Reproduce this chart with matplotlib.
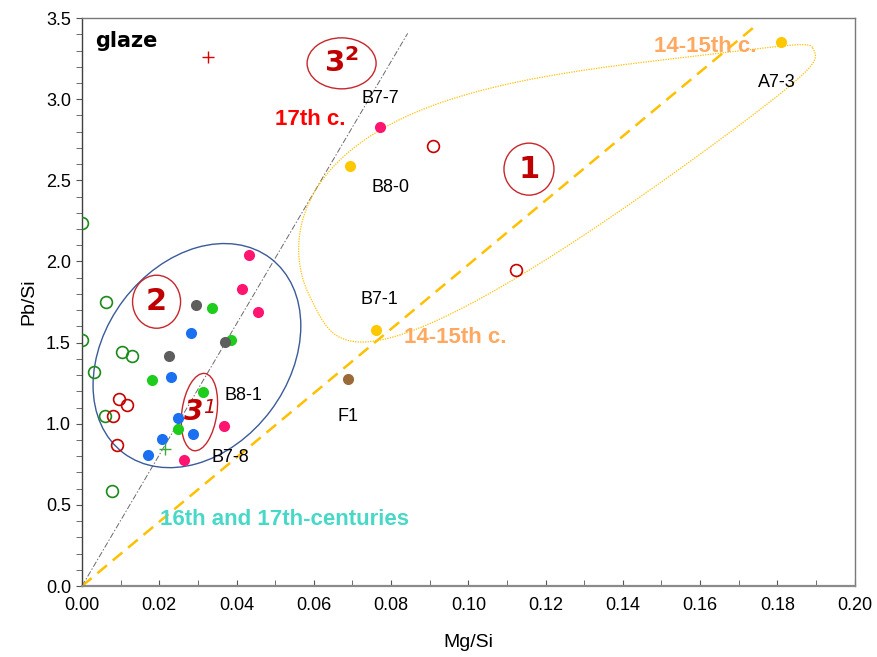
import numpy as np
import matplotlib
matplotlib.use("Agg")
import matplotlib.pyplot as plt
from matplotlib.patches import Ellipse
from matplotlib.transforms import ScaledTranslation
from matplotlib.ticker import MultipleLocator, FormatStrFormatter

plt.rcParams['font.family'] = ['Liberation Sans', 'DejaVu Sans']
plt.rcParams['mathtext.fontset'] = 'dejavusans'

# ---- data: Mg/Si (x) and Pb/Si (y) ratios of the glazes ----
pink_x = [0.0432, 0.0414, 0.0455, 0.0367, 0.0265, 0.0771]
pink_y = [2.04, 1.83, 1.686, 0.988, 0.776, 2.83]

green_x = [0.0337, 0.0386, 0.0180, 0.0314, 0.0248]
green_y = [1.711, 1.516, 1.271, 1.197, 0.965]

gray_x = [0.0294, 0.0371, 0.0226]
gray_y = [1.733, 1.505, 1.419]

blue_x = [0.0283, 0.0231, 0.0248, 0.0288, 0.0207, 0.0172]
blue_y = [1.557, 1.290, 1.037, 0.937, 0.908, 0.805]

yellow_x = [0.0693, 0.1810, 0.0761]
yellow_y = [2.59, 3.35, 1.577]

brown_x = [0.0688]
brown_y = [1.275]

open_green_x = [0.0, 0.0062, 0.0, 0.0103, 0.0129, 0.0031, 0.0060, 0.0077]
open_green_y = [2.24, 1.75, 1.516, 1.442, 1.419, 1.320, 1.049, 0.585]

open_red_x = [0.0908, 0.1123, 0.0096, 0.0116, 0.0081, 0.0090]
open_red_y = [2.71, 1.947, 1.152, 1.117, 1.049, 0.867]

cross_red_x = [0.0326]
cross_red_y = [3.26]
cross_green_x = [0.0215]
cross_green_y = [0.846]

# sample names and their label positions
sample_names = ["B7-7", "B8-0", "B7-1", "F1", "B8-1", "B7-8", "A7-3"]
sample_label_x = [0.0771, 0.0799, 0.0771, 0.0688, 0.0417, 0.0385, 0.1798]
sample_label_y = [3.007, 2.458, 1.768, 1.045, 1.177, 0.793, 3.105]

# reference trend lines through the origin: (end x, slope)
gray_trend = (0.0843, 40.4)
gold_trend = (0.175, 19.8)

x_ticks = [0.00, 0.02, 0.04, 0.06, 0.08, 0.10, 0.12, 0.14, 0.16, 0.18, 0.20]
y_ticks = [0.0, 0.5, 1.0, 1.5, 2.0, 2.5, 3.0, 3.5]

fig = plt.figure(figsize=(8.77, 6.57), dpi=100)
ax = fig.add_axes([0.0935, 0.108, 0.881, 0.8645])
ax.set_xlim(0, 0.20)
ax.set_ylim(0, 3.5)


def at_data(cx, cy):
    """Transform: inches offset from a data point."""
    return fig.dpi_scale_trans + ScaledTranslation(cx, cy, ax.transData)


# trend lines
gx = np.array([0.0, gray_trend[0]])
ax.plot(gx, gx * gray_trend[1], color='#6a6a6a', lw=0.7,
        linestyle=(0, (6, 2, 1.5, 2)), zorder=2)
ox = np.array([0.0, gold_trend[0]])
ax.plot(ox, ox * gold_trend[1], color='#FFC000', lw=1.8,
        linestyle=(0, (5, 3)), zorder=2)

# group 2 envelope
ax.add_patch(Ellipse((0, 0), 2.44, 1.84, angle=53, transform=at_data(0.02975, 1.42),
                     fill=False, ec='#3A5A9A', lw=1.0, zorder=2))

# group 1 envelope: lopsided egg-shaped dotted loop (inches, rotated)
t = np.linspace(0, 2 * np.pi, 600)
c, s = np.cos(t), np.sin(t)
half_len = 2.805
top_w, top_taper = 1.00, 0.72
bot_w, bot_taper = 0.66, 0.55
lx = half_len * c
ly = np.where(s >= 0,
              top_w * s * (1 - top_taper * c),
              -bot_w * np.sqrt(np.abs(s)) * (1 - bot_taper * c))
th = np.deg2rad(26.3)
rx = lx * np.cos(th) - ly * np.sin(th)
ry = lx * np.sin(th) + ly * np.cos(th)
ax.plot(rx, ry, color='#FFC000', lw=0.9, linestyle=(0, (1, 1)),
        transform=at_data(0.1240, 2.553), zorder=2)

# circled group numbers
red_dark = '#C00000'
circ_kw = dict(fill=False, ec='#C8262B', lw=1.0, zorder=3)
ax.add_patch(Ellipse((0, 0), 0.50, 0.52, transform=at_data(0.1157, 2.569), **circ_kw))
ax.add_patch(Ellipse((0, 0), 0.48, 0.53, transform=at_data(0.0193, 1.752), **circ_kw))
ax.add_patch(Ellipse((0, 0), 0.69, 0.51, transform=at_data(0.0672, 3.221), **circ_kw))
ax.add_patch(Ellipse((0, 0), 0.35, 0.78, angle=-8, transform=at_data(0.0304, 1.072), **circ_kw))

num_kw = dict(color=red_dark, fontweight='bold', family='DejaVu Sans',
              ha='center', va='center', zorder=4)
ax.text(0.1157, 2.569, "1", fontsize=22, **num_kw)
ax.text(0.0193, 1.752, "2", fontsize=22, **num_kw)
ax.text(0.0672, 3.221, r"$\mathbf{3}^{\mathbf{2}}$", fontsize=21,
        color=red_dark, ha='center', va='center', zorder=4)
ax.annotate("3", (0.0304, 1.072), xytext=(-4, 0), textcoords='offset points',
            fontsize=20, fontweight='bold', fontstyle='italic', family='DejaVu Sans',
            color=red_dark, ha='center', va='center', zorder=4)
ax.annotate("1", (0.0304, 1.072), xytext=(7, 3), textcoords='offset points',
            fontsize=14, fontstyle='italic', family='DejaVu Sans',
            color=red_dark, ha='center', va='center', zorder=4)

# points
ms = 8
ax.plot(green_x, green_y, 'o', color='#1ECC1E', ms=ms, mec='none', zorder=5)
ax.plot(gray_x, gray_y, 'o', color='#5E5E5E', ms=ms, mec='none', zorder=5)
ax.plot(blue_x, blue_y, 'o', color='#1A70F0', ms=ms, mec='none', zorder=5)
ax.plot(pink_x, pink_y, 'o', color='#FF1470', ms=ms, mec='none', zorder=5)
ax.plot(yellow_x, yellow_y, 'o', color='#FFC800', ms=ms, mec='none', zorder=5)
ax.plot(brown_x, brown_y, 'o', color='#9A6A38', ms=ms, mec='none', zorder=5)
ax.plot(open_green_x, open_green_y, 'o', mfc='none', mec='#1A8A1A', ms=8.5, mew=1.2, zorder=5)
ax.plot(open_red_x, open_red_y, 'o', mfc='none', mec='#C80000', ms=8.5, mew=1.2, zorder=5)
ax.plot(cross_red_x, cross_red_y, '+', color='#E00000', ms=9, mew=1.0, zorder=5)
ax.plot(cross_green_x, cross_green_y, '+', color='#3AAA3A', ms=9, mew=1.0, zorder=5)

for name, lx_, ly_ in zip(sample_names, sample_label_x, sample_label_y):
    ax.text(lx_, ly_, name, fontsize=13, color='black', ha='center', va='center', zorder=6)

# period annotations
ax.text(0.0034, 3.36, "glaze", fontsize=15, fontweight='bold', family='DejaVu Sans',
        ha='left', va='center')
ax.text(0.0592, 2.875, "17th c.", fontsize=16, fontweight='bold', color='#FF0000',
        ha='center', va='center')
ax.text(0.1614, 3.327, "14-15th c.", fontsize=16, fontweight='bold', color='#FFA860',
        ha='center', va='center', zorder=4)
ax.text(0.0965, 1.534, "14-15th c.", fontsize=16, fontweight='bold', color='#FFA860',
        ha='center', va='center', zorder=4)
ax.text(0.0523, 0.407, "16th and 17th-centuries", fontsize=16, fontweight='bold',
        color='#48D8C8', ha='center', va='center', zorder=4)

# axes styling
ax.set_xticks(x_ticks)
ax.set_yticks(y_ticks)
ax.xaxis.set_major_formatter(FormatStrFormatter('%.2f'))
ax.yaxis.set_major_formatter(FormatStrFormatter('%.1f'))
ax.xaxis.set_minor_locator(MultipleLocator(0.01))
ax.yaxis.set_minor_locator(MultipleLocator(0.1))
ax.tick_params(axis='x', which='both', direction='in', length=4, color='#555555',
               labelsize=13, pad=8)
ax.tick_params(axis='y', which='both', direction='out', length=4, color='#555555',
               labelsize=13, pad=4)
ax.set_xlabel("Mg/Si", fontsize=14, labelpad=14)
ax.set_ylabel("Pb/Si", fontsize=14, labelpad=6)

for side in ('top', 'right'):
    ax.spines[side].set_color('#7a7a7a')
    ax.spines[side].set_linewidth(1.0)
ax.spines['left'].set_color('#404040')
ax.spines['left'].set_linewidth(1.0)
ax.spines['bottom'].set_color('#8a8a8a')
ax.spines['bottom'].set_linewidth(1.6)

fig.savefig("out.png", dpi=100)
